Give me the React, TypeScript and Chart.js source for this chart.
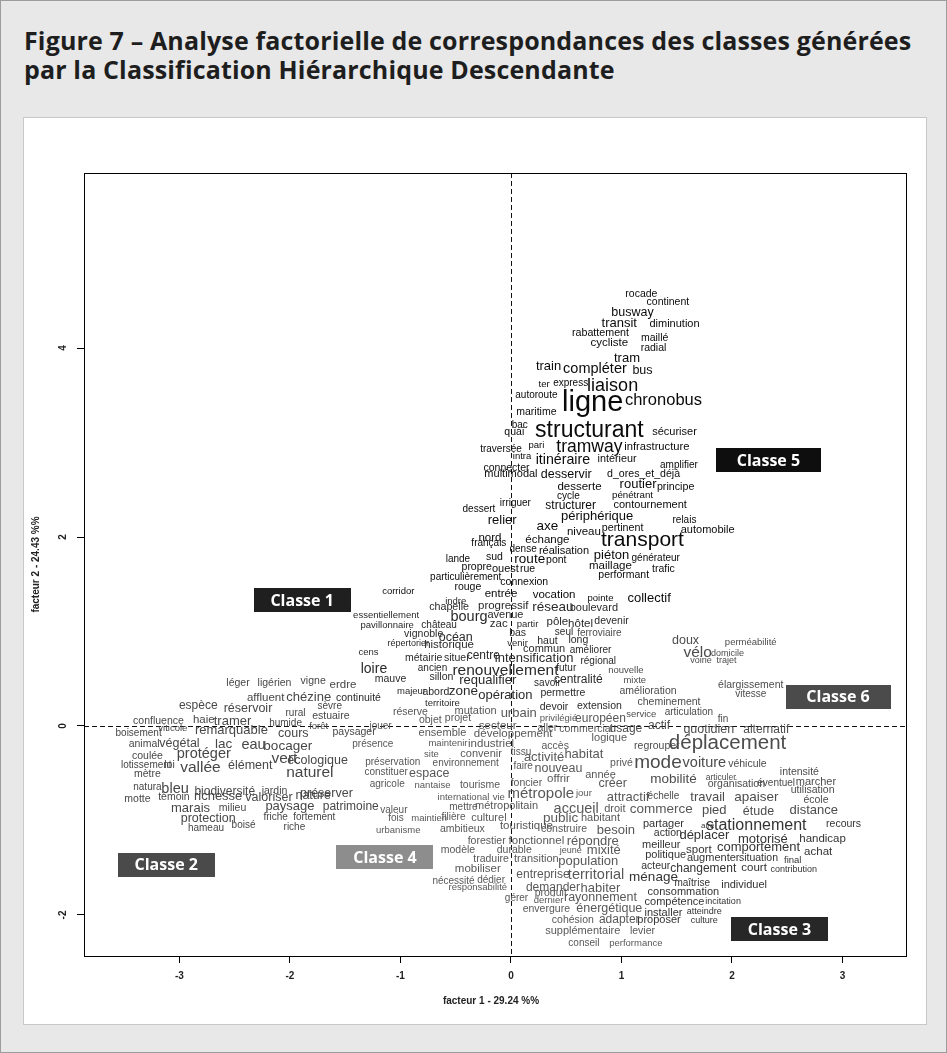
import { useEffect, useRef } from "react";
import { Chart, registerables } from "chart.js";
Chart.register(...registerables);

type W = [string, number, number, number];

// [word, facteur 1, facteur 2, cex]
const CLASSE1: W[] = [
  ["indre", -0.5, 1.32, 0.95], ["chapelle", -0.56, 1.26, 1.07], ["progressif", -0.07, 1.27, 1.15],
  ["réseau", 0.38, 1.26, 1.35], ["boulevard", 0.75, 1.25, 1.1], ["bourg", -0.38, 1.15, 1.45],
  ["avenue", -0.05, 1.17, 1.1], ["zac", -0.11, 1.08, 1.15], ["partir", 0.15, 1.08, 0.95],
  ["pôle", 0.42, 1.1, 1.15], ["hôtel", 0.63, 1.08, 1.15], ["devenir", 0.91, 1.11, 1.05],
  ["château", -0.65, 1.07, 1.0], ["essentiellement", -1.13, 1.17, 0.95], ["pavillonnaire", -1.12, 1.07, 0.95],
  ["vignoble", -0.79, 0.97, 1.05], ["océan", -0.5, 0.94, 1.25], ["bas", 0.06, 0.98, 1.05],
  ["seul", 0.48, 0.99, 1.0], ["répertorier", -0.93, 0.87, 0.9], ["historique", -0.56, 0.86, 1.15],
  ["haut", 0.33, 0.9, 1.05], ["long", 0.61, 0.91, 1.05], ["venir", 0.06, 0.87, 0.95],
  ["commun", 0.3, 0.81, 1.1], ["améliorer", 0.72, 0.8, 1.0], ["cens", -1.29, 0.78, 0.95],
  ["métairie", -0.79, 0.72, 1.05], ["situer", -0.49, 0.72, 1.05], ["centre", -0.25, 0.74, 1.2],
  ["intensification", 0.21, 0.71, 1.3], ["régional", 0.79, 0.69, 1.0], ["ancien", -0.71, 0.61, 1.0],
  ["renouvellement", -0.05, 0.58, 1.55], ["futur", 0.5, 0.61, 1.0], ["mauve", -1.09, 0.5, 1.05],
  ["sillon", -0.63, 0.52, 1.05], ["requalifier", -0.21, 0.48, 1.3], ["savoir", 0.33, 0.45, 1.0],
  ["centralité", 0.61, 0.49, 1.2], ["majeur", -0.9, 0.37, 0.95], ["abord", -0.68, 0.36, 1.05],
  ["zone", -0.43, 0.37, 1.35], ["opération", -0.05, 0.32, 1.3], ["permettre", 0.47, 0.35, 1.05],
  ["territoire", -0.62, 0.24, 0.95], ["devoir", 0.39, 0.2, 1.05], ["extension", 0.8, 0.21, 1.05],
  ["loire", -1.24, 0.6, 1.4], ["continuité", -1.38, 0.3, 1.05],
];

const CLASSE2: W[] = [
  ["léger", -2.47, 0.45, 1.05], ["ligérien", -2.14, 0.45, 1.05], ["vigne", -1.79, 0.47, 1.05],
  ["erdre", -1.52, 0.44, 1.15], ["affluent", -2.22, 0.3, 1.15], ["chézine", -1.83, 0.3, 1.3],
  ["espèce", -2.83, 0.21, 1.2], ["réservoir", -2.38, 0.18, 1.25], ["rural", -1.95, 0.14, 1.0],
  ["sèvre", -1.64, 0.21, 1.0], ["confluence", -3.19, 0.05, 1.05], ["haie", -2.78, 0.07, 1.15],
  ["tramer", -2.52, 0.05, 1.3], ["humide", -2.04, 0.03, 1.0], ["estuaire", -1.63, 0.1, 1.05],
  ["forêt", -1.74, 0.0, 0.95], ["boisement", -3.37, -0.08, 1.0], ["viticole", -3.06, -0.03, 0.95],
  ["remarquable", -2.53, -0.05, 1.3], ["cours", -1.97, -0.08, 1.25], ["paysager", -1.42, -0.06, 1.05],
  ["animal", -3.32, -0.19, 1.05], ["végétal", -3.0, -0.19, 1.25], ["lac", -2.6, -0.19, 1.35],
  ["eau", -2.33, -0.2, 1.45], ["bocager", -2.02, -0.21, 1.35], ["coulée", -3.29, -0.32, 1.05],
  ["protéger", -2.78, -0.3, 1.45], ["lotissement", -3.3, -0.42, 1.0], ["loi", -3.09, -0.41, 1.05],
  ["vallée", -2.81, -0.44, 1.55], ["élément", -2.36, -0.42, 1.25], ["vert", -2.05, -0.35, 1.55],
  ["écologique", -1.75, -0.37, 1.25], ["mètre", -3.29, -0.51, 1.05], ["naturel", -1.82, -0.49, 1.55],
  ["natura", -3.29, -0.65, 1.0], ["bleu", -3.04, -0.67, 1.45], ["biodiversité", -2.59, -0.69, 1.2],
  ["jardin", -2.14, -0.69, 1.05], ["préserver", -1.67, -0.71, 1.25], ["motte", -3.38, -0.77, 1.05],
  ["témoin", -3.05, -0.75, 1.05], ["richesse", -2.65, -0.75, 1.3], ["valoriser", -2.19, -0.76, 1.25],
  ["nature", -1.79, -0.74, 1.25], ["marais", -2.9, -0.87, 1.3], ["milieu", -2.52, -0.87, 1.05],
  ["paysage", -2.0, -0.85, 1.3], ["patrimoine", -1.45, -0.85, 1.2], ["protection", -2.74, -0.98, 1.25],
  ["boisé", -2.42, -1.05, 1.0], ["friche", -2.13, -0.97, 1.0], ["fortement", -1.78, -0.97, 1.0],
  ["hameau", -2.76, -1.08, 1.0], ["riche", -1.96, -1.07, 1.0],
];

const CLASSE3: W[] = [
  ["partager", 1.38, -1.04, 1.1], ["aire", 1.78, -1.06, 0.8], ["stationnement", 2.22, -1.05, 1.6],
  ["recours", 3.01, -1.04, 1.05], ["action", 1.42, -1.13, 1.05], ["déplacer", 1.75, -1.16, 1.3],
  ["motorisé", 2.28, -1.2, 1.3], ["handicap", 2.82, -1.19, 1.15], ["meilleur", 1.36, -1.26, 1.1],
  ["sport", 1.7, -1.31, 1.15], ["comportement", 2.24, -1.29, 1.3], ["achat", 2.78, -1.33, 1.15],
  ["politique", 1.4, -1.36, 1.1], ["augmenter", 1.83, -1.4, 1.1], ["situation", 2.24, -1.4, 1.05],
  ["final", 2.55, -1.42, 0.95], ["acteur", 1.31, -1.48, 1.05], ["changement", 1.74, -1.51, 1.2],
  ["court", 2.2, -1.5, 1.15], ["contribution", 2.56, -1.52, 0.9], ["ménage", 1.29, -1.6, 1.35],
  ["maîtrise", 1.64, -1.66, 1.0], ["individuel", 2.11, -1.68, 1.1], ["consommation", 1.56, -1.76, 1.1],
  ["compétence", 1.48, -1.86, 1.1], ["incitation", 1.92, -1.86, 0.9], ["installer", 1.38, -1.98, 1.1],
  ["atteindre", 1.75, -1.96, 0.9], ["proposer", 1.34, -2.05, 1.1], ["culture", 1.75, -2.06, 0.9],
];

const CLASSE4: W[] = [
  ["réserve", -0.91, 0.15, 1.05], ["mutation", -0.32, 0.16, 1.1], ["urbain", 0.07, 0.13, 1.3],
  ["objet", -0.73, 0.06, 1.05], ["projet", -0.48, 0.08, 1.05], ["privilégié", 0.43, 0.08, 0.95],
  ["européen", 0.81, 0.08, 1.2], ["secteur", -0.12, 0.0, 1.15], ["aller", 0.33, -0.02, 1.05],
  ["commercial", 0.68, -0.03, 1.05], ["ensemble", -0.62, -0.07, 1.1], ["développement", 0.02, -0.08, 1.15],
  ["logique", 0.89, -0.13, 1.1], ["maintenir", -0.57, -0.18, 0.95], ["industriel", -0.18, -0.19, 1.15],
  ["accès", 0.4, -0.21, 1.05], ["site", -0.72, -0.3, 0.95], ["convenir", -0.27, -0.3, 1.1],
  ["tissu", 0.09, -0.28, 1.0], ["activité", 0.3, -0.33, 1.3], ["habitat", 0.66, -0.3, 1.3],
  ["environnement", -0.41, -0.39, 1.0], ["faire", 0.11, -0.43, 1.0], ["nouveau", 0.43, -0.45, 1.25],
  ["privé", 1.0, -0.39, 1.05], ["espace", -0.74, -0.5, 1.25], ["année", 0.81, -0.52, 1.1],
  ["nantaise", -0.71, -0.63, 0.95], ["tourisme", -0.28, -0.63, 1.05], ["foncier", 0.14, -0.6, 1.05],
  ["offrir", 0.43, -0.56, 1.15], ["créer", 0.92, -0.61, 1.25], ["international", -0.43, -0.76, 0.95],
  ["vie", -0.11, -0.76, 0.95], ["métropole", 0.27, -0.72, 1.5], ["jour", 0.66, -0.71, 0.95],
  ["attractif", 1.06, -0.76, 1.3], ["valeur", -1.06, -0.89, 1.0], ["mettre", -0.43, -0.86, 1.0],
  ["métropolitain", -0.04, -0.85, 1.1], ["accueil", 0.59, -0.88, 1.45], ["droit", 0.94, -0.88, 1.1],
  ["commerce", 1.36, -0.88, 1.35], ["fois", -1.04, -0.98, 1.0], ["maintien", -0.74, -0.98, 0.95],
  ["filière", -0.52, -0.97, 1.0], ["culturel", -0.2, -0.97, 1.1], ["public", 0.45, -0.98, 1.35],
  ["habitant", 0.81, -0.97, 1.1], ["urbanisme", -1.02, -1.1, 0.95], ["ambitieux", -0.44, -1.09, 1.05],
  ["touristique", 0.14, -1.06, 1.15], ["construire", 0.48, -1.09, 1.05], ["besoin", 0.95, -1.1, 1.3],
  ["forestier", -0.22, -1.22, 1.05], ["fonctionnel", 0.23, -1.22, 1.15], ["répondre", 0.74, -1.22, 1.3],
  ["modèle", -0.48, -1.31, 1.05], ["durable", 0.03, -1.31, 1.05], ["jeune", 0.54, -1.32, 0.9],
  ["mixité", 0.84, -1.32, 1.3], ["traduire", -0.18, -1.41, 1.05], ["transition", 0.23, -1.41, 1.1],
  ["population", 0.7, -1.43, 1.3], ["mobiliser", -0.3, -1.51, 1.15], ["nécessité", -0.52, -1.64, 1.0],
  ["dédier", -0.18, -1.63, 1.0], ["entreprise", 0.29, -1.57, 1.2], ["territorial", 0.77, -1.58, 1.45],
  ["responsabilité", -0.3, -1.71, 0.95], ["demander", 0.38, -1.71, 1.2], ["habiter", 0.81, -1.72, 1.3],
  ["gérer", 0.05, -1.82, 1.0], ["produit", 0.36, -1.77, 1.05], ["rayonnement", 0.81, -1.82, 1.25],
  ["dernier", 0.34, -1.85, 0.95], ["envergure", 0.32, -1.94, 1.05], ["énergétique", 0.89, -1.93, 1.25],
  ["cohésion", 0.56, -2.05, 1.05], ["adapter", 0.98, -2.05, 1.2], ["supplémentaire", 0.65, -2.17, 1.1],
  ["levier", 1.19, -2.17, 1.05], ["conseil", 0.66, -2.3, 1.0], ["performance", 1.13, -2.3, 0.95],
  ["préservation", -1.07, -0.38, 1.0], ["constituer", -1.13, -0.49, 1.0], ["agricole", -1.12, -0.62, 1.0],
  ["présence", -1.25, -0.19, 1.0], ["jouer", -1.18, 0.0, 1.0],
];

const CLASSE5: W[] = [
  ["rocade", 1.18, 4.57, 1.05], ["continent", 1.42, 4.49, 1.05], ["busway", 1.1, 4.38, 1.25],
  ["transit", 0.98, 4.26, 1.3], ["diminution", 1.48, 4.25, 1.1], ["rabattement", 0.81, 4.16, 1.07],
  ["maillé", 1.3, 4.1, 1.05], ["cycliste", 0.89, 4.06, 1.15], ["radial", 1.29, 4.0, 1.05],
  ["tram", 1.05, 3.89, 1.3], ["train", 0.34, 3.81, 1.3], ["compléter", 0.76, 3.78, 1.45],
  ["bus", 1.19, 3.76, 1.25], ["ter", 0.3, 3.62, 0.95], ["express", 0.54, 3.63, 1.0],
  ["liaison", 0.92, 3.6, 1.8], ["autoroute", 0.23, 3.5, 1.0], ["ligne", 0.74, 3.42, 2.9],
  ["chronobus", 1.38, 3.45, 1.65], ["maritime", 0.23, 3.32, 1.05], ["bac", 0.08, 3.18, 1.0],
  ["quai", 0.03, 3.11, 1.05], ["structurant", 0.71, 3.13, 2.3], ["sécuriser", 1.48, 3.11, 1.1],
  ["traversée", -0.09, 2.93, 1.0], ["pari", 0.23, 2.97, 0.95], ["tramway", 0.71, 2.95, 1.75],
  ["infrastructure", 1.32, 2.95, 1.12], ["intra", 0.1, 2.85, 0.95], ["itinéraire", 0.47, 2.81, 1.42],
  ["intérieur", 0.96, 2.82, 1.08], ["amplifier", 1.52, 2.76, 1.0], ["connecter", -0.04, 2.73, 1.05],
  ["multimodal", 0.0, 2.67, 1.1], ["desservir", 0.5, 2.66, 1.25], ["d_ores_et_déjà", 1.2, 2.67, 1.06],
  ["desserte", 0.62, 2.53, 1.15], ["routier", 1.15, 2.56, 1.3], ["principe", 1.49, 2.53, 1.07],
  ["cycle", 0.52, 2.43, 1.0], ["pénétrant", 1.1, 2.44, 0.97], ["contournement", 1.26, 2.34, 1.1],
  ["irriguer", 0.04, 2.36, 1.0], ["dessert", -0.29, 2.29, 1.0], ["structurer", 0.54, 2.33, 1.2],
  ["périphérique", 0.78, 2.22, 1.3], ["relier", -0.08, 2.18, 1.3], ["relais", 1.57, 2.18, 1.0],
  ["axe", 0.33, 2.11, 1.35], ["automobile", 1.78, 2.07, 1.1], ["niveau", 0.66, 2.06, 1.15],
  ["pertinent", 1.01, 2.09, 1.07], ["transport", 1.19, 1.97, 2.1], ["nord", -0.19, 1.99, 1.15],
  ["français", -0.2, 1.93, 1.0], ["échange", 0.33, 1.97, 1.15], ["dense", 0.11, 1.87, 1.0],
  ["réalisation", 0.48, 1.85, 1.1], ["piéton", 0.91, 1.81, 1.3], ["lande", -0.48, 1.76, 1.0],
  ["sud", -0.15, 1.79, 1.05], ["générateur", 1.31, 1.77, 1.0], ["route", 0.17, 1.76, 1.35],
  ["pont", 0.41, 1.76, 1.05], ["propre", -0.31, 1.68, 1.05], ["ouest", -0.05, 1.66, 1.1],
  ["rue", 0.15, 1.66, 1.05], ["maillage", 0.9, 1.7, 1.15], ["trafic", 1.38, 1.66, 1.05],
  ["particulièrement", -0.41, 1.57, 1.0], ["performant", 1.02, 1.6, 1.05], ["connexion", 0.12, 1.52, 1.05],
  ["rouge", -0.39, 1.47, 1.05], ["entrée", -0.09, 1.4, 1.15], ["vocation", 0.39, 1.39, 1.15],
  ["pointe", 0.81, 1.35, 0.95], ["collectif", 1.25, 1.35, 1.3], ["corridor", -1.02, 1.42, 0.95],
];

const CLASSE6: W[] = [
  ["doux", 1.58, 0.9, 1.25], ["perméabilité", 2.17, 0.88, 0.95], ["vélo", 1.69, 0.78, 1.55],
  ["domicile", 1.96, 0.77, 0.9], ["voirie", 1.72, 0.69, 0.9], ["trajet", 1.95, 0.69, 0.9],
  ["élargissement", 2.17, 0.43, 1.05], ["vitesse", 2.17, 0.34, 1.0], ["ferroviaire", 0.8, 0.98, 1.0],
  ["nouvelle", 1.04, 0.59, 0.95], ["mixte", 1.12, 0.48, 0.95], ["amélioration", 1.24, 0.37, 1.05],
  ["cheminement", 1.43, 0.25, 1.05], ["service", 1.18, 0.12, 0.95], ["articulation", 1.61, 0.15, 1.0],
  ["fin", 1.92, 0.07, 1.0], ["usage", 1.04, -0.03, 1.2], ["actif", 1.34, 0.0, 1.2],
  ["quotidien", 1.79, -0.04, 1.25], ["alternatif", 2.31, -0.04, 1.2], ["regrouper", 1.32, -0.21, 1.05],
  ["déplacement", 1.96, -0.18, 2.05], ["mode", 1.33, -0.39, 1.9], ["voiture", 1.75, -0.39, 1.45],
  ["véhicule", 2.14, -0.4, 1.05], ["intensité", 2.61, -0.49, 1.05], ["mobilité", 1.47, -0.56, 1.35],
  ["articuler", 1.9, -0.55, 0.85], ["organisation", 2.04, -0.61, 1.05], ["éventuel", 2.4, -0.61, 1.0],
  ["marcher", 2.76, -0.59, 1.1], ["utilisation", 2.73, -0.68, 1.05], ["échelle", 1.38, -0.74, 1.0],
  ["travail", 1.78, -0.76, 1.3], ["apaiser", 2.22, -0.75, 1.35], ["école", 2.76, -0.78, 1.05],
  ["pied", 1.84, -0.89, 1.3], ["étude", 2.24, -0.91, 1.25], ["distance", 2.74, -0.89, 1.3],
];

const CLASSES = [CLASSE1, CLASSE2, CLASSE3, CLASSE4, CLASSE5, CLASSE6];
const CLASS_NAMES = ["Classe 1", "Classe 2", "Classe 3", "Classe 4", "Classe 5", "Classe 6"];
const CLASS_LABEL_F1 = [-1.89, -3.12, 2.43, -1.14, 2.33, 2.96];
const CLASS_LABEL_F2 = [1.33, -1.47, -2.15, -1.39, 2.81, 0.31];
const WORD_COLORS = ["#2a2a2a", "#474747", "#333333", "#585858", "#0a0a0a", "#4c4c4c"];
const BOX_COLORS = ["#1f1f1f", "#4a4a4a", "#272727", "#8d8d8d", "#0e0e0e", "#4b4b4b"];

const X_TICKS = [-3, -2, -1, 0, 1, 2, 3];
const Y_TICKS = [-2, 0, 2, 4];
const X_MIN = -3.864, X_MAX = 3.575, Y_MIN = -2.434, Y_MAX = 5.852;
const X_TITLE = "facteur 1 - 29.24 %%";
const Y_TITLE = "facteur 2 - 24.43 %%";

const SANS = '"Liberation Sans", Arial, Helvetica, sans-serif';

const overlay = {
  id: "overlay",
  beforeDatasetsDraw(chart: any) {
    const { ctx, chartArea: a, scales } = chart;
    const x0 = scales.x.getPixelForValue(0);
    const y0 = scales.y.getPixelForValue(0);
    ctx.save();
    ctx.strokeStyle = "#111";
    ctx.lineWidth = 1;
    ctx.setLineDash([5, 3]);
    ctx.beginPath();
    ctx.moveTo(Math.round(x0) + 0.5, a.top);
    ctx.lineTo(Math.round(x0) + 0.5, a.bottom);
    ctx.moveTo(a.left, Math.round(y0) + 0.5);
    ctx.lineTo(a.right, Math.round(y0) + 0.5);
    ctx.stroke();
    ctx.setLineDash([]);
    ctx.strokeStyle = "#000";
    ctx.strokeRect(Math.round(a.left) + 0.5, Math.round(a.top) + 0.5, Math.round(a.right - a.left), Math.round(a.bottom - a.top));
    ctx.restore();
  },
  afterDatasetsDraw(chart: any) {
    const { ctx, chartArea: a, scales } = chart;
    ctx.save();
    ctx.textAlign = "center";
    ctx.textBaseline = "middle";
    chart.data.datasets.forEach((ds: any, di: number) => {
      const meta = chart.getDatasetMeta(di);
      ctx.fillStyle = ds.wordColor;
      meta.data.forEach((pt: any, i: number) => {
        const w = ds.words[i];
        ctx.font = `${(w[3] * 10).toFixed(1)}px ${SANS}`;
        ctx.fillText(w[0], pt.x, pt.y);
      });
    });
    // class labels
    CLASS_NAMES.forEach((name, i) => {
      const cx = scales.x.getPixelForValue(CLASS_LABEL_F1[i]);
      const cy = scales.y.getPixelForValue(CLASS_LABEL_F2[i]);
      const bw = i === 4 || i === 5 ? 105 : 97;
      const bh = 24;
      ctx.fillStyle = BOX_COLORS[i];
      ctx.fillRect(Math.round(cx - bw / 2), Math.round(cy - bh / 2), bw, bh);
      ctx.fillStyle = "#ffffff";
      ctx.font = `bold 16px "Open Sans", "DejaVu Sans", sans-serif`;
      ctx.fillText(name, cx, cy + 1);
    });
    // y tick labels (rotated like R)
    ctx.fillStyle = "#222";
    ctx.font = `bold 10px ${SANS}`;
    Y_TICKS.forEach((v) => {
      const y = scales.y.getPixelForValue(v);
      ctx.save();
      ctx.translate(a.left - 21, y);
      ctx.rotate(-Math.PI / 2);
      ctx.fillText(String(v), 0, 0);
      ctx.restore();
    });
    // axis titles
    ctx.font = `bold 10px ${SANS}`;
    ctx.fillText(X_TITLE, (a.left + a.right) / 2 - 4, a.bottom + 45);
    ctx.save();
    ctx.translate(a.left - 48, (a.top + a.bottom) / 2);
    ctx.rotate(-Math.PI / 2);
    ctx.fillText(Y_TITLE, 0, 0);
    ctx.restore();
    ctx.restore();
  },
};

function AfcChart() {
  const ref = useRef<HTMLCanvasElement>(null);
  useEffect(() => {
    if (!ref.current) return;
    const chart = new Chart(ref.current, {
      type: "scatter",
      data: {
        datasets: CLASSES.map((c, i) => ({
          label: CLASS_NAMES[i],
          data: c.map((w) => ({ x: w[1], y: w[2] })),
          pointRadius: 0,
          pointHoverRadius: 0,
          words: c,
          wordColor: WORD_COLORS[i],
        })) as any,
      },
      options: {
        animation: false,
        responsive: false,
        maintainAspectRatio: false,
        layout: { padding: { top: 55, right: 20, left: 0, bottom: 0 } },
        plugins: { legend: { display: false }, tooltip: { enabled: false } },
        events: [],
        scales: {
          x: {
            type: "linear",
            min: X_MIN,
            max: X_MAX,
            afterBuildTicks: (s: any) => { s.ticks = X_TICKS.map((v) => ({ value: v })); },
            afterFit: (s: any) => { s.height = 68; },
            grid: { display: true, drawOnChartArea: false, drawTicks: true, tickLength: 7, color: "#000" },
            border: { display: true, color: "#000" },
            ticks: { color: "#222", font: { family: SANS, size: 10, weight: "bold" }, padding: 7, maxRotation: 0, autoSkip: false },
          },
          y: {
            type: "linear",
            min: Y_MIN,
            max: Y_MAX,
            afterBuildTicks: (s: any) => { s.ticks = Y_TICKS.map((v) => ({ value: v })); },
            afterFit: (s: any) => { s.width = 60; },
            grid: { display: true, drawOnChartArea: false, drawTicks: true, tickLength: 7, color: "#000" },
            border: { display: true, color: "#000" },
            ticks: { display: false },
          },
        },
      } as any,
      plugins: [overlay],
    });
    return () => chart.destroy();
  }, []);
  return <canvas ref={ref} width={902} height={906} style={{ display: "block" }} />;
}

export default function App() {
  return (
    <div
      style={{
        position: "absolute",
        left: 0,
        top: 0,
        width: 947,
        height: 1053,
        boxSizing: "border-box",
        background: "#e8e8e8",
        border: "1px solid #9c9c9c",
        fontFamily: '"Open Sans", sans-serif',
      }}
    >
      <div
        style={{
          position: "absolute",
          left: 23,
          top: 25,
          width: 915,
          whiteSpace: "nowrap",
          fontWeight: 700,
          fontSize: 25,
          lineHeight: "29px",
          color: "#1e1e1e",
          letterSpacing: 0.15,
        }}
      >
        Figure 7 – Analyse factorielle de correspondances des classes générées
        <br />
        par la Classification Hiérarchique Descendante
      </div>
      <div
        style={{
          position: "absolute",
          left: 22,
          top: 116,
          width: 902,
          height: 906,
          background: "#fff",
          border: "1px solid #c8c8c8",
        }}
      >
        <AfcChart />
      </div>
    </div>
  );
}
